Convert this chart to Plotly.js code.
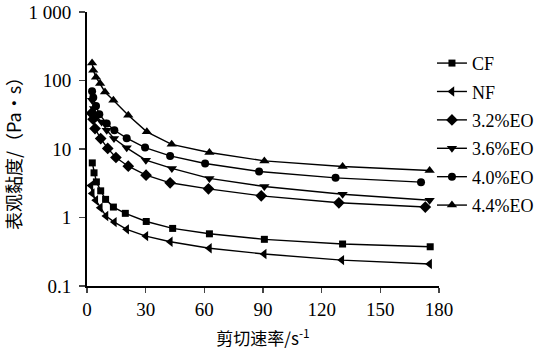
<!DOCTYPE html>
<html>
<head>
<meta charset="utf-8">
<script src="https://cdn.plot.ly/plotly-3.0.1.min.js"></script>
<style>html,body{margin:0;padding:0;background:#fff;}#chart{width:545px;height:352px;}</style>
</head>
<body>
<div id="chart"></div>
<script>
// Series names
const seriesNames = ["CF", "NF", "3.2%EO", "3.6%EO", "4.0%EO", "4.4%EO"];
// Shear rate (s^-1) and apparent viscosity (Pa·s) for each series
const xCF = [2.7, 3.6, 4.8, 7.0, 9.5, 13.5, 19.6, 30.3, 43.8, 62.6, 90.7, 130.7, 175.5];
const yCF = [6.27, 4.49, 3.31, 2.45, 1.84, 1.42, 1.15, 0.875, 0.693, 0.578, 0.48, 0.41, 0.374];
const xNF = [2.0, 2.7, 4.5, 6.8, 9.7, 14.0, 20.3, 30.1, 42.6, 62.6, 90.6, 130.3, 175.2];
const yNF = [2.92, 2.25, 1.79, 1.39, 1.05, 0.857, 0.671, 0.535, 0.442, 0.355, 0.293, 0.239, 0.209];
const xEO32 = [2.3, 3.1, 4.1, 7.0, 10.6, 14.8, 21.1, 30.2, 42.5, 62.1, 89.1, 128.8, 173.0];
const yEO32 = [33.3, 27.2, 19.9, 14.2, 10.2, 7.52, 5.61, 4.15, 3.21, 2.62, 2.07, 1.64, 1.42];
const xEO36 = [2.6, 3.6, 5.0, 7.5, 10.1, 13.8, 20.3, 30.1, 43.4, 62.6, 90.7, 130.7, 175.2];
const yEO36 = [51.4, 38.9, 29.4, 24.8, 18.8, 14.2, 10.4, 6.87, 5.2, 3.72, 2.84, 2.19, 1.79];
const xEO40 = [2.6, 3.2, 4.6, 6.3, 10.1, 14.0, 20.3, 29.7, 42.5, 60.4, 88.0, 127.1, 170.8];
const yEO40 = [69.6, 56.3, 42.5, 32.2, 23.5, 18.8, 14.4, 10.5, 7.93, 6.15, 4.70, 3.79, 3.28];
const xEO44 = [2.6, 3.2, 4.6, 6.7, 9.2, 13.5, 21.1, 30.6, 43.3, 62.6, 90.7, 130.7, 175.2];
const yEO44 = [180, 141, 112, 90.1, 68, 51.4, 31.1, 17.8, 11.7, 8.9, 6.7, 5.56, 4.86];
// Tick labels
const xTickVals = [0, 30, 60, 90, 120, 150, 180];
const yTickVals = [0.1, 1, 10, 100, 1000];
const yTickText = ["0.1", "1", "10", "100", "1 000"];

const xs = [xCF, xNF, xEO32, xEO36, xEO40, xEO44];
const ys = [yCF, yNF, yEO32, yEO36, yEO40, yEO44];
const symbols = ["square", "triangle-left", "diamond", "triangle-down", "circle", "triangle-up"];
const sizes = [7, 9, 9, 9, 8, 9];

const traces = seriesNames.map((n, i) => ({
  x: xs[i], y: ys[i], name: n, type: "scatter", mode: "lines+markers",
  legendgroup: "g" + i,
  line: {color: "#000", width: 1.4},
  marker: {symbol: symbols[i], size: sizes[i], color: "#000"},
  cliponaxis: false
}));

const serif = "'Liberation Serif', 'DejaVu Serif', serif";
const cjk = "'Noto Sans CJK SC', sans-serif";
const layout = {
  width: 545, height: 352,
  margin: {l: 87, r: 106, t: 12, b: 66, autoexpand: false},
  paper_bgcolor: "#fff", plot_bgcolor: "#fff",
  font: {family: serif, size: 18, color: "#000"},
  showlegend: true,
  legend: {x: 0.98, xanchor: "left", y: 0.88, yanchor: "top",
    bgcolor: "rgba(0,0,0,0)", font: {family: serif, size: 18, color: "#000"},
    traceorder: "grouped", tracegroupgap: 2, itemwidth: 30},
  xaxis: {
    range: [0, 180], tickvals: xTickVals, ticks: "outside", ticklen: 5, tickwidth: 1.5,
    showline: true, linecolor: "#000", linewidth: 2, showgrid: false, zeroline: false,
    tickfont: {family: serif, size: 19},
    title: {text: "剪切速率/s<sup>-1</sup>", font: {family: cjk, size: 17}, standoff: 14}
  },
  yaxis: {
    type: "log", range: [-1, 3], tickvals: yTickVals, ticktext: yTickText,
    ticks: "outside", ticklen: 6, tickwidth: 1.5, ticklabelstandoff: 4,
    showline: true, linecolor: "#000", linewidth: 2, showgrid: false, zeroline: false,
    tickfont: {family: serif, size: 19},
    title: {text: "表观黏度/（Pa•s）", font: {family: cjk, size: 18}, standoff: 12}
  }
};

Plotly.newPlot("chart", traces, layout, {staticPlot: true, displayModeBar: false});
</script>
</body>
</html>
